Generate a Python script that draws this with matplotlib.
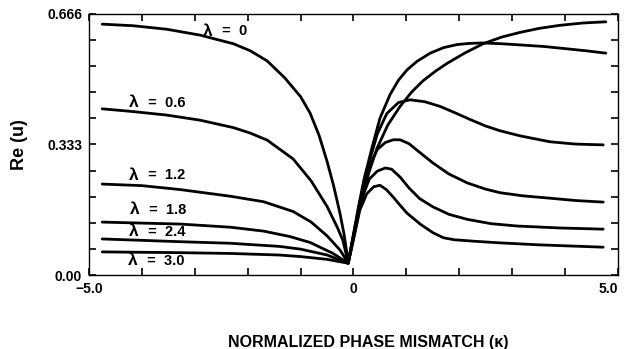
import numpy as np
import matplotlib
matplotlib.use("Agg")
import matplotlib.pyplot as plt

plt.rcParams['font.family'] = ['Liberation Sans', 'DejaVu Sans']

# curves: kappa, Re(u)
k_l0 = [-4.75, -4.17, -3.53, -2.9, -2.27, -1.95, -1.63, -1.3, -1.0, -0.82, -0.65, -0.5, -0.38, -0.26, -0.18, -0.1,
        0.0, 0.1, 0.2, 0.3, 0.44, 0.65, 0.88, 1.1, 1.31, 1.55, 1.77, 2.1, 2.45, 2.8, 3.15, 3.5, 3.9, 4.34, 4.77]
v_l0 = [0.640, 0.636, 0.627, 0.612, 0.590, 0.572, 0.546, 0.503, 0.455, 0.413, 0.356, 0.290, 0.230, 0.160, 0.105, 0.033,
        0.100, 0.165, 0.220, 0.265, 0.322, 0.383, 0.430, 0.467, 0.495, 0.520, 0.540, 0.566, 0.590, 0.607, 0.619, 0.629, 0.637, 0.643, 0.646]

k_l06 = [-4.75, -4.17, -3.53, -2.9, -2.27, -1.95, -1.63, -1.14, -0.8, -0.5, -0.3, -0.2, -0.1,
         0.0, 0.1, 0.2, 0.35, 0.5, 0.69, 0.85, 1.01, 1.2, 1.45, 1.7, 1.96, 2.2, 2.45, 2.8, 3.15, 3.6, 4.04, 4.4, 4.77]
v_l06 = [0.424, 0.417, 0.408, 0.395, 0.376, 0.362, 0.344, 0.296, 0.240, 0.175, 0.120, 0.088, 0.031,
         0.105, 0.178, 0.245, 0.325, 0.400, 0.460, 0.497, 0.523, 0.545, 0.566, 0.580, 0.588, 0.591, 0.592, 0.590, 0.587, 0.583, 0.577, 0.572, 0.566]

k_l12 = [-4.75, -4.0, -3.28, -2.33, -1.7, -1.14, -0.8, -0.5, -0.25, -0.1,
         0.0, 0.1, 0.2, 0.3, 0.45, 0.63, 0.85, 1.07, 1.35, 1.64, 1.9, 2.2, 2.5, 2.77, 3.15, 3.71, 4.2, 4.72]
v_l12 = [0.232, 0.228, 0.218, 0.201, 0.187, 0.162, 0.135, 0.100, 0.063, 0.030,
         0.100, 0.172, 0.235, 0.290, 0.360, 0.412, 0.440, 0.447, 0.442, 0.430, 0.415, 0.397, 0.380, 0.368, 0.355, 0.340, 0.334, 0.332]

k_l18 = [-4.75, -3.28, -2.33, -1.7, -1.2, -0.82, -0.4, -0.1,
         0.0, 0.1, 0.2, 0.3, 0.45, 0.6, 0.75, 0.88, 1.05, 1.25, 1.5, 1.8, 2.15, 2.5, 2.77, 3.2, 3.71, 4.2, 4.72]
v_l18 = [0.135, 0.130, 0.122, 0.112, 0.098, 0.083, 0.056, 0.030,
         0.100, 0.170, 0.230, 0.278, 0.320, 0.338, 0.345, 0.345, 0.335, 0.313, 0.286, 0.258, 0.235, 0.219, 0.210, 0.202, 0.196, 0.190, 0.186]

k_l24 = [-4.75, -3.28, -2.33, -1.4, -1.0, -0.5, -0.1,
         0.0, 0.1, 0.2, 0.3, 0.45, 0.6, 0.72, 0.88, 1.05, 1.25, 1.5, 1.8, 2.15, 2.6, 3.09, 3.9, 4.72]
v_l24 = [0.092, 0.085, 0.081, 0.073, 0.066, 0.051, 0.030,
         0.095, 0.160, 0.210, 0.245, 0.265, 0.273, 0.270, 0.250, 0.222, 0.195, 0.174, 0.155, 0.142, 0.131, 0.125, 0.120, 0.117]

k_l30 = [-4.75, -3.28, -2.33, -1.4, -1.0, -0.5, -0.1,
         0.0, 0.12, 0.25, 0.38, 0.5, 0.62, 0.75, 0.88, 1.01, 1.26, 1.5, 1.7, 1.9, 2.3, 2.77, 3.5, 4.72]
v_l30 = [0.059, 0.057, 0.055, 0.051, 0.047, 0.040, 0.030,
         0.090, 0.166, 0.207, 0.225, 0.229, 0.218, 0.199, 0.178, 0.158, 0.130, 0.108, 0.095, 0.090, 0.086, 0.082, 0.077, 0.071]

curves = [(k_l0, v_l0), (k_l06, v_l06), (k_l12, v_l12),
          (k_l18, v_l18), (k_l24, v_l24), (k_l30, v_l30)]

lam_vals = ['0', '0.6', '1.2', '1.8', '2.4', '3.0']
label_x = [-2.85, -4.24, -4.24, -4.22, -4.24, -4.26]
label_y = [0.622, 0.439, 0.255, 0.166, 0.110, 0.036]

fig = plt.figure(figsize=(6.24, 3.49), dpi=100)
ax = fig.add_axes([0.1426, 0.212, 0.8478, 0.748])

for k, v in curves:
    ax.plot(k, v, color='black', lw=2.0, solid_joinstyle='round', solid_capstyle='round')

for t, x, y in zip(lam_vals, label_x, label_y):
    ax.text(x, y, 'λ', fontsize=12.5, fontweight='bold', ha='left', va='center')
    ax.text(x + 0.28, y, ' =  ' + t, fontsize=10.5, fontweight='bold', ha='left', va='center')

ax.set_xlim(-5, 5)
ax.set_ylim(0, 0.666)

xt = np.arange(-5, 6, 1)
ax.set_xticks(xt)
ax.set_xticklabels(['−5.0' if x == -5 else '0' if x == 0 else '5.0' if x == 5 else '' for x in xt])
yt = np.linspace(0, 0.666, 11)
ax.set_yticks(yt)
ylab = [''] * 11
ylab[0], ylab[5], ylab[10] = '0.00', '0.333', '0.666'
ax.set_yticklabels(ylab)

ax.tick_params(direction='in', length=5, width=1.2, top=True, right=True,
               labelsize=10, pad=5)
for lab in ax.get_xticklabels() + ax.get_yticklabels():
    lab.set_fontweight('bold')
ax.get_xticklabels()[-1].set_horizontalalignment('right')
for s in ax.spines.values():
    s.set_linewidth(1.0)

ax.set_ylabel('Re (u)', fontsize=13, fontweight='bold', labelpad=14)
fig.text(368 / 624, 1 - 342 / 349, 'NORMALIZED PHASE MISMATCH (κ)', fontsize=11.5,
         fontweight='bold', ha='center', va='center')

fig.savefig('out.png', dpi=100)
